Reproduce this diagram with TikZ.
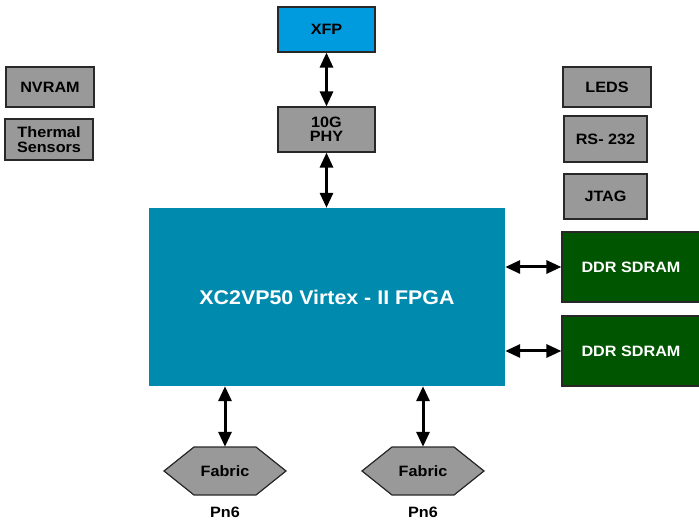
\documentclass[tikz,border=0pt]{standalone}
\usepackage{fontspec}
\setmainfont{Liberation Sans}[FakeStretch=1.08]
\usetikzlibrary{arrows.meta,calc}
\definecolor{boxgray}{RGB}{153,153,153}
\definecolor{xfpblue}{RGB}{0,155,222}
\definecolor{fpgateal}{RGB}{0,138,174}
\definecolor{ddrgreen}{RGB}{0,85,0}
\definecolor{edgegray}{RGB}{40,40,40}
\tikzset{
  x=1pt, y=-1pt,
  lbl/.style={font=\fontsize{15}{14.5}\selectfont\bfseries, align=center, inner sep=0pt},
  graybox/.style={lbl, draw=edgegray, line width=1.2pt, fill=boxgray},
  xfpbox/.style={lbl, draw=edgegray, line width=1.2pt, fill=xfpblue},
  fpgabox/.style={lbl, fill=fpgateal, text=white, font=\fontsize{19.8}{20}\selectfont\bfseries},
  ddrbox/.style={lbl, draw=edgegray, line width=1.2pt, fill=ddrgreen, text=white},
  fabricshape/.style={draw=edgegray, line width=1.2pt, fill=boxgray},
  biarrow/.style={line width=3pt, {Triangle[width=13pt,length=15pt]}-{Triangle[width=13pt,length=15pt]}},
}
\begin{document}
\begin{tikzpicture}
\useasboundingbox (0,0) rectangle (699,521);
% boxes
\node[xfpbox, minimum width=97, minimum height=45] (xfp) at (326.5,29.5) {XFP};
\node[graybox, minimum width=97, minimum height=45] (phy) at (326.5,129.5) {10G\\PHY};
\node[graybox, minimum width=88, minimum height=40] (nvram) at (50,87) {NVRAM};
\node[graybox, minimum width=88, minimum height=41] (therm) at (49,139.5) {Thermal\\Sensors};
\node[graybox, minimum width=88, minimum height=40] (leds) at (607,87) {LEDS};
\node[graybox, minimum width=83, minimum height=46] (rs) at (605.5,139) {RS- 232};
\node[graybox, minimum width=83, minimum height=45] (jtag) at (605.5,196.5) {JTAG};
\node[fpgabox, minimum width=356, minimum height=178] (fpga) at (327,297) {XC2VP50 Virtex - II FPGA};
\node[ddrbox, minimum width=138, minimum height=70] (ddr1) at (631,267) {DDR SDRAM};
\node[ddrbox, minimum width=138, minimum height=70] (ddr2) at (631,351) {DDR SDRAM};
% fabric hexagons
\coordinate (f1c) at (225,471);
\coordinate (f2c) at (423,471);
\foreach \c in {f1c,f2c}{
  \draw[fabricshape] (\c) +(-61,0) -- +(-31,-24) -- +(31,-24) -- +(61,0) -- +(31,24) -- +(-31,24) -- cycle;
}
\node[lbl, minimum width=62, minimum height=48] (fab1) at (f1c) {Fabric};
\node[lbl, minimum width=62, minimum height=48] (fab2) at (f2c) {Fabric};
\node[lbl] (pn1) at (225,512) {Pn6};
\node[lbl] (pn2) at (423,512) {Pn6};
% connectors
\draw[biarrow] (xfp.south) -- (phy.north);
\draw[biarrow] (phy.south) -- (phy.south |- fpga.north);
\draw[biarrow] (fpga.east |- ddr1.west) -- (ddr1.west);
\draw[biarrow] (fpga.east |- ddr2.west) -- (ddr2.west);
\draw[biarrow] (fab1.north |- fpga.south) -- (fab1.north);
\draw[biarrow] (fab2.north |- fpga.south) -- (fab2.north);
\end{tikzpicture}
\end{document}
